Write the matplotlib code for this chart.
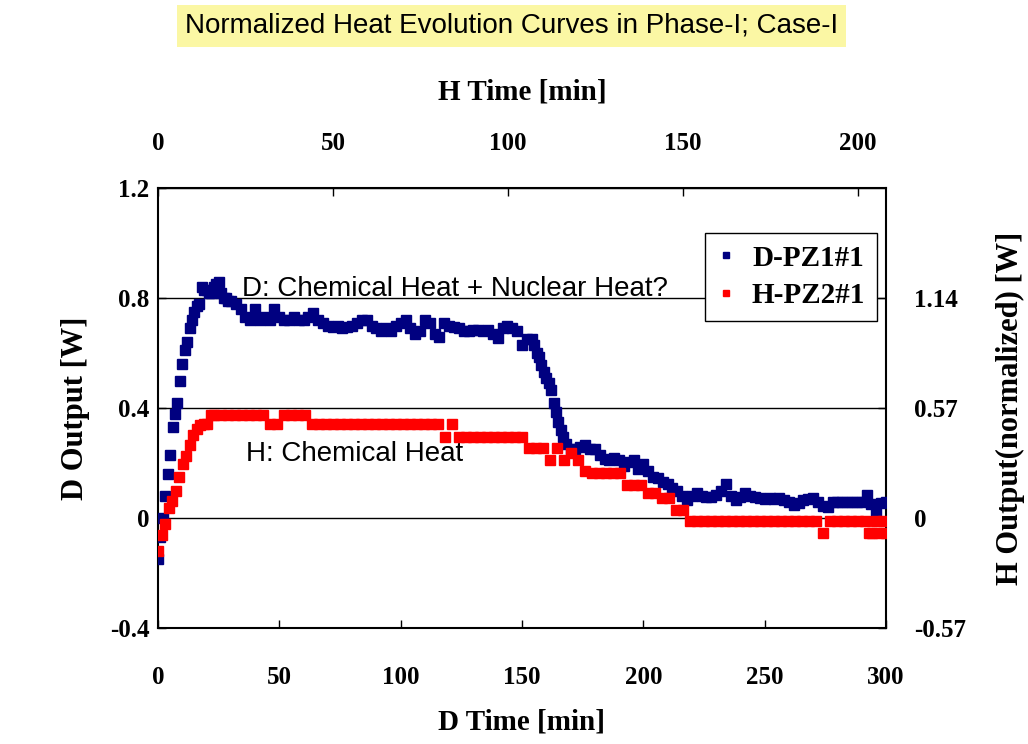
import matplotlib
matplotlib.use('Agg')
import matplotlib.pyplot as plt
from matplotlib.lines import Line2D

# D cell, plotted against D time (bottom) and D output (left)
d_time = [0, 1, 2, 3, 4, 5, 6, 7, 8, 9, 10, 11, 12, 13, 14, 15, 16, 17, 18, 19, 20,
          21, 22, 23, 24, 25, 26, 27, 28, 29, 30,
          32, 34, 36, 38, 40, 42, 44, 46, 48, 50, 52, 54, 56, 58, 60, 62, 64, 66, 68, 70,
          72, 74, 76, 78, 80, 82, 84, 86, 88, 90, 92, 94, 96, 98, 100, 102, 104, 106, 108, 110,
          112, 114, 116, 118, 120, 122, 124, 126, 128, 130, 132, 134, 136, 138, 140, 142, 144,
          146, 148, 150, 152, 154,
          155, 156, 157, 158, 159, 160, 161, 162, 163, 164, 165, 166, 167, 168,
          170, 172, 174, 176, 178, 180, 182, 184, 186, 188, 190, 192, 194, 196, 198, 200,
          202, 204, 206, 208, 210, 212, 214, 216, 218, 220, 222, 224, 226, 228, 230, 232,
          234, 236, 238, 240, 242, 244, 246, 248, 250, 252, 254, 256, 258, 260, 262, 264,
          266, 268, 270, 272, 274, 276, 278, 280, 282, 284, 286, 288, 290, 292, 294, 296,
          298, 300]
d_output = [-0.15, -0.07, 0.00, 0.08, 0.16, 0.23, 0.33, 0.38, 0.42, 0.50, 0.56, 0.61, 0.64,
            0.69, 0.72, 0.75, 0.77, 0.78, 0.84, 0.83, 0.83, 0.82, 0.82, 0.84, 0.85, 0.86, 0.82,
            0.80, 0.80, 0.79, 0.79,
            0.78, 0.76, 0.73, 0.72, 0.76, 0.72, 0.73, 0.72, 0.76, 0.73, 0.72, 0.72, 0.73, 0.72,
            0.72, 0.73, 0.745, 0.72, 0.71, 0.70, 0.695, 0.70, 0.69, 0.695, 0.70, 0.71, 0.72,
            0.72, 0.70, 0.69, 0.68, 0.69, 0.68, 0.70, 0.71, 0.72, 0.69, 0.67, 0.68, 0.72, 0.71,
            0.67, 0.66, 0.71, 0.70, 0.695, 0.69, 0.68, 0.68, 0.685, 0.685, 0.68, 0.685, 0.67,
            0.655, 0.69, 0.70, 0.69, 0.68, 0.63, 0.65, 0.65,
            0.63, 0.60, 0.585, 0.555, 0.53, 0.51, 0.49, 0.465, 0.42, 0.385, 0.35, 0.32, 0.295,
            0.27,
            0.25, 0.25, 0.26, 0.265, 0.25, 0.25, 0.23, 0.215, 0.21, 0.22, 0.21, 0.19, 0.205,
            0.21, 0.18, 0.195, 0.17, 0.15, 0.145, 0.13, 0.125, 0.11, 0.10, 0.08, 0.065, 0.08,
            0.09, 0.08, 0.075, 0.077, 0.085, 0.10, 0.125, 0.08, 0.065, 0.075, 0.09, 0.08, 0.075,
            0.073, 0.07, 0.073, 0.07, 0.073, 0.065, 0.06, 0.047, 0.055, 0.065, 0.07, 0.073,
            0.06, 0.045, 0.04, 0.06, 0.058, 0.058, 0.058, 0.058, 0.058, 0.06, 0.084, 0.05,
            0.018, 0.055, 0.058]

# H cell, plotted against H time (top) and normalized H output (right)
h_time = [0, 1, 2, 3, 4, 5, 6, 7, 8, 9, 10, 11, 12, 13, 14, 15,
          16, 18, 20, 22, 24, 26, 28, 30, 32, 34, 36, 38, 40, 42, 44, 46, 48, 50, 52, 54,
          56, 58, 60, 62, 64, 66, 68, 70, 72, 74, 76, 78, 80, 82, 84, 86, 88, 90, 92, 94,
          96, 98, 100, 102, 104, 106, 108, 110, 112, 114, 116, 118, 120, 122, 124, 126, 128,
          130, 132, 134, 136, 138, 140, 142, 144, 146, 148, 150, 152, 154, 156, 158, 160,
          162, 164, 166, 168, 170, 172, 174, 176, 178, 180, 182, 184, 186, 188, 190, 192,
          194, 196, 198, 200, 202, 203, 204, 205, 206, 207, 208]
h_output = [-0.171, -0.09, -0.03, 0.05, 0.09, 0.14, 0.21, 0.28, 0.32, 0.38, 0.43, 0.46, 0.48,
            0.485, 0.485, 0.534,
            0.534, 0.534, 0.534, 0.534, 0.534, 0.534, 0.534, 0.534, 0.485, 0.485, 0.534, 0.534,
            0.534, 0.534, 0.485, 0.485, 0.485, 0.485, 0.485, 0.485, 0.485, 0.485, 0.485, 0.485,
            0.485, 0.485, 0.485, 0.485, 0.485, 0.485, 0.485, 0.485, 0.485, 0.42, 0.485, 0.42,
            0.42, 0.42, 0.42, 0.42, 0.42, 0.42, 0.42, 0.42, 0.42, 0.363, 0.363, 0.363, 0.30,
            0.363, 0.30, 0.336, 0.30, 0.242, 0.235, 0.235, 0.235, 0.235, 0.235, 0.171, 0.171,
            0.171, 0.128, 0.128, 0.104, 0.104, 0.043, 0.043, -0.014, -0.014, -0.014, -0.014,
            -0.014, -0.014, -0.014, -0.014, -0.014, -0.014, -0.014, -0.014, -0.014, -0.014,
            -0.014, -0.014, -0.014, -0.014, -0.014, -0.078, -0.014, -0.014, -0.014, -0.014,
            -0.014, -0.014, -0.078, -0.078, -0.014, -0.078, -0.014, -0.078]

d_yticks = [-0.4, 0, 0.4, 0.8, 1.2]
d_yticklabels = ['-0.4', '0', '0.4', '0.8', '1.2']
h_yticks = [-0.57, 0, 0.57, 1.14]
h_yticklabels = ['-0.57', '0', '0.57', '1.14']
d_xticks = [0, 50, 100, 150, 200, 250, 300]
h_xticks = [0, 50, 100, 150, 200]

SERIF = 'Liberation Serif'
SANS = 'Liberation Sans'
NAVY = '#000080'
RED = '#ff0000'

fig = plt.figure(figsize=(10.28, 7.44), dpi=100)
pos = [158 / 1028, 1 - 628 / 744, (886 - 158) / 1028, (628 - 188) / 744]

ax = fig.add_axes(pos)
ax.plot(d_time, d_output, linestyle='none', marker='s', markersize=6.5,
        color=NAVY, markeredgecolor=NAVY, zorder=3)
ax.set_xlim(0, 300)
ax.set_ylim(-0.4, 1.2)
ax.set_xticks(d_xticks)
ax.set_yticks(d_yticks)
ax.set_yticklabels(d_yticklabels)
ax.yaxis.grid(True, color='black', linewidth=1)
ax.set_axisbelow(True)
ax.tick_params(direction='in', length=6, width=1)
ax.tick_params(axis='x', pad=27, labelsize=18)
ax.tick_params(axis='y', pad=6, labelsize=18)
for lbl in ax.get_xticklabels() + ax.get_yticklabels():
    lbl.set_fontfamily(SERIF)
    lbl.set_fontweight('bold')
ax.set_xlabel('D Time [min]', fontsize=21, fontfamily=SERIF, fontweight='bold')
ax.set_ylabel('D Output [W]', fontsize=22, fontfamily=SERIF, fontweight='bold')
ax.xaxis.set_label_coords(0.5, -0.214)
ax.yaxis.set_label_coords(-0.114, 0.5)
ax.xaxis.label.set_va('center')
ax.yaxis.label.set_va('center')

ax.text(34.6, 0.808, 'D: Chemical Heat + Nuclear Heat?', fontsize=20,
        fontfamily=SANS, va='baseline', zorder=4)
ax.text(36.3, 0.207, 'H: Chemical Heat', fontsize=20,
        fontfamily=SANS, va='baseline', zorder=4)

# second axes on top/right for the H cell
axh = fig.add_axes(pos, frameon=False)
axh.plot(h_time, h_output, linestyle='none', marker='s', markersize=6.5,
         color=RED, markeredgecolor=RED, zorder=3)
axh.set_xlim(0, 208)
axh.set_ylim(-0.57, 1.71)
axh.xaxis.tick_top()
axh.yaxis.tick_right()
axh.xaxis.set_label_position('top')
axh.yaxis.set_label_position('right')
axh.set_xticks(h_xticks)
axh.set_yticks(h_yticks)
axh.set_yticklabels(h_yticklabels)
axh.tick_params(direction='in', length=6, width=1)
axh.tick_params(axis='x', pad=24, labelsize=18)
axh.tick_params(axis='y', pad=20, labelsize=18)
for lbl in axh.get_xticklabels() + axh.get_yticklabels():
    lbl.set_fontfamily(SERIF)
    lbl.set_fontweight('bold')
axh.set_xlabel('H Time [min]', fontsize=21, fontfamily=SERIF, fontweight='bold')
axh.set_ylabel('H Output(normalized) [W]', fontsize=22, fontfamily=SERIF,
               fontweight='bold', rotation=90)
axh.xaxis.set_label_coords(0.5, 1.218)
axh.yaxis.set_label_coords(1.1715, 0.5)
axh.xaxis.label.set_va('center')
axh.yaxis.label.set_va('center')

for sp in ax.spines.values():
    sp.set_linewidth(1.5)

handles = [Line2D([], [], linestyle='none', marker='s', markersize=4.5, color=NAVY),
           Line2D([], [], linestyle='none', marker='s', markersize=4.5, color=RED)]
leg = axh.legend(handles, ['D-PZ1#1', 'H-PZ2#1'], loc='upper right',
                 bbox_to_anchor=(877 / 1028, 1 - 233 / 744),
                 bbox_transform=fig.transFigure, borderaxespad=0,
                 prop={'family': SERIF, 'weight': 'bold', 'size': 21},
                 fancybox=False, framealpha=1, edgecolor='black',
                 handlelength=0.6, handletextpad=0.6, labelspacing=0.35,
                 borderpad=0.4)
leg.get_frame().set_linewidth(1)
leg.set_zorder(10)

fig.text(0.4976, 1 - 26 / 744, 'Normalized Heat Evolution Curves in Phase-I; Case-I',
         ha='center', va='center', fontsize=20, fontfamily=SANS,
         bbox=dict(facecolor='#fbf7a4', edgecolor='none', boxstyle='square,pad=0.3'))

fig.savefig('out.png', dpi=100)
